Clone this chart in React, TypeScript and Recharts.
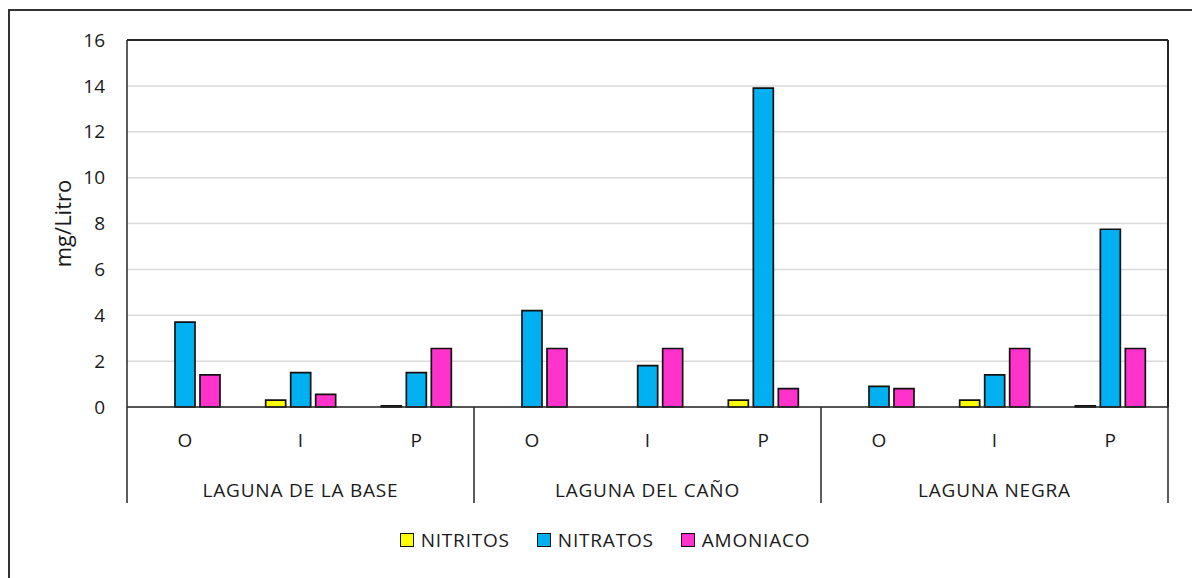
import { BarChart, Bar, XAxis, YAxis, CartesianGrid, ReferenceLine } from 'recharts'

const subZonas = ['O', 'I', 'P', 'O', 'I', 'P', 'O', 'I', 'P']
const lagunas = ['LAGUNA DE LA BASE', 'LAGUNA DEL CAÑO', 'LAGUNA NEGRA']
const nitritos = [0, 0.3, 0.05, 0, 0, 0.3, 0, 0.3, 0.05]
const nitratos = [3.7, 1.5, 1.5, 4.2, 1.8, 13.9, 0.9, 1.4, 7.75]
const amoniaco = [1.4, 0.55, 2.55, 2.55, 2.55, 0.8, 0.8, 2.55, 2.55]
const yTicks = [0, 2, 4, 6, 8, 10, 12, 14, 16]

const series = [
  { key: 'NITRITOS', color: '#ffff00' },
  { key: 'NITRATOS', color: '#00b0f0' },
  { key: 'AMONIACO', color: '#ff33cc' },
]

const data = subZonas.map((sub, i) => ({
  id: i,
  sub,
  laguna: lagunas[Math.floor(i / 3)],
  NITRITOS: nitritos[i],
  NITRATOS: nitratos[i],
  AMONIACO: amoniaco[i],
}))

const W = 1192
const H = 578
const MARGIN = { top: 40, right: 24, bottom: 71, left: 9 }
const Y_AXIS_W = 118
const X_AXIS_H = 100
const PLOT_W = W - MARGIN.left - Y_AXIS_W - MARGIN.right
const FONT = '"Open Sans", sans-serif'
const INK = '#1a1a1a'
const LINE = '#262626'

// two-level category axis: zone letter, lagoon name and group separators
function CategoryTick(props: any) {
  const { x, y, index } = props
  const band = PLOT_W / subZonas.length
  const pos = index % 3
  return (
    <g>
      <text x={x} y={y + 40} textAnchor="middle" fontSize={19} fontFamily={FONT} fill={INK}>
        {subZonas[index]}
      </text>
      {pos === 1 && (
        <text
          x={x}
          y={y + 90}
          textAnchor="middle"
          fontSize={19}
          fontFamily={FONT}
          fill={INK}
          letterSpacing={0.8}
        >
          {lagunas[Math.floor(index / 3)]}
        </text>
      )}
      {pos === 0 && (
        <line x1={x - band / 2} x2={x - band / 2} y1={y} y2={y + 96} stroke={LINE} strokeWidth={1.5} />
      )}
      {index === subZonas.length - 1 && (
        <line x1={x + band / 2} x2={x + band / 2} y1={y} y2={y + 96} stroke={LINE} strokeWidth={1.5} />
      )}
    </g>
  )
}

function YLabel(props: any) {
  const { viewBox } = props
  const cx = viewBox.x + 53
  const cy = viewBox.y + viewBox.height / 2
  return (
    <text
      x={cx}
      y={cy}
      transform={`rotate(-90 ${cx} ${cy})`}
      textAnchor="middle"
      dominantBaseline="central"
      fontSize={22}
      fontFamily={FONT}
      fill={INK}
    >
      mg/Litro
    </text>
  )
}

function LegendRow() {
  return (
    <div
      style={{
        position: 'absolute',
        left: 9,
        top: 527,
        width: W,
        display: 'flex',
        justifyContent: 'center',
        gap: 27,
        fontFamily: FONT,
        fontSize: 19,
        letterSpacing: 0.8,
        color: INK,
      }}
    >
      {series.map((s) => (
        <div key={s.key} style={{ display: 'flex', alignItems: 'center', gap: 7 }}>
          <span
            style={{
              display: 'inline-block',
              width: 12,
              height: 12,
              background: s.color,
              border: '1.6px solid #111',
            }}
          />
          <span>{s.key}</span>
        </div>
      ))}
    </div>
  )
}

export default function App() {
  return (
    <div style={{ position: 'fixed', left: 0, top: 0, width: W, height: H, overflow: 'hidden', background: '#fff' }}>
      <div
        style={{
          position: 'absolute',
          left: 8,
          top: 9,
          width: 1300,
          height: 700,
          border: '2px solid #333',
        }}
      />
      <div style={{ position: 'absolute', left: 0, top: 0 }}>
        <BarChart width={W} height={H} data={data} margin={MARGIN} barSize={20} barGap={5}>
          <CartesianGrid horizontal vertical={false} stroke="#d9d9d9" strokeWidth={1.5} />
          <XAxis
            dataKey="id"
            type="category"
            height={X_AXIS_H}
            axisLine={{ stroke: LINE, strokeWidth: 1.5 }}
            tickLine={false}
            tickSize={0}
            tickMargin={0}
            interval={0}
            tick={<CategoryTick />}
          />
          <YAxis
            domain={[0, 16]}
            ticks={yTicks}
            width={Y_AXIS_W}
            axisLine={{ stroke: LINE, strokeWidth: 1.5 }}
            tickLine={false}
            tickSize={0}
            tickMargin={22}
            tick={{ fontSize: 19, fontFamily: FONT, fill: INK }}
            label={<YLabel />}
          />
          {/* frame of the plot area: top and right edges */}
          <ReferenceLine y={16} stroke={LINE} strokeWidth={2} ifOverflow="visible" />
          <ReferenceLine x={8} position="end" stroke={LINE} strokeWidth={2} ifOverflow="visible" />
          {series.map((s) => (
            <Bar
              key={s.key}
              dataKey={s.key}
              fill={s.color}
              stroke="#111"
              strokeWidth={1.7}
              isAnimationActive={false}
            />
          ))}
        </BarChart>
      </div>
      <LegendRow />
    </div>
  )
}
